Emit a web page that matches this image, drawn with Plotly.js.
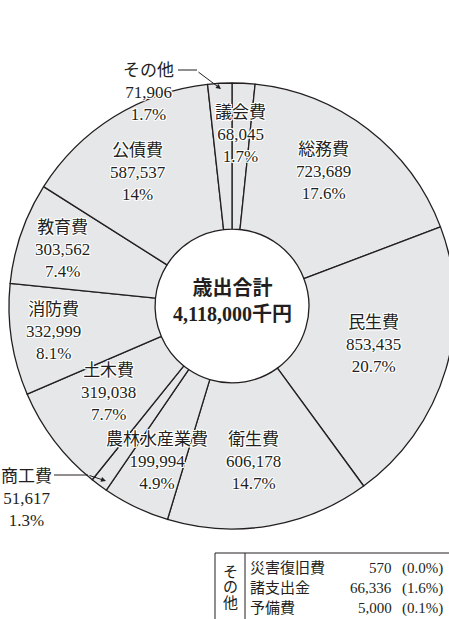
<!DOCTYPE html>
<html>
<head>
<meta charset="utf-8">
<script src="https://cdn.plot.ly/plotly-3.0.1.min.js"></script>
<style>
html,body{margin:0;padding:0;background:#fff;overflow:hidden;width:449px;height:619px;}
#chart{width:460px;height:619px;}
</style>
</head>
<body>
<div id="chart"></div>
<script>
// ---- data (clockwise from 12 o'clock) ----
const categories = ['議会費','総務費','民生費','衛生費','農林水産業費','商工費','土木費','消防費','教育費','公債費','その他'];
const values = [68045, 723689, 853435, 606178, 199994, 51617, 319038, 332999, 303562, 587537, 71906];
const percentLabels = ['1.7%','17.6%','20.7%','14.7%','4.9%','1.3%','7.7%','8.1%','7.4%','14%','1.7%'];
const totalTitle = '歳出合計';
const totalUnit = '千円';
const otherGroupLabel = ['そ','の','他'];
const otherItems = ['災害復旧費','諸支出金','予備費'];
const otherValues = [570, 66336, 5000];
const otherPercents = ['0.0%','1.6%','0.1%'];

// ---- layout helpers ----
const W = 460, H = 619;
const px = x => x / W;
const py = y => 1 - y / H;
const fmt = v => v.toLocaleString('en-US');
const FONT = "Liberation Serif, Noto Sans CJK JP, serif";
const INK = '#231f20';
const halo = 'white 1px 1px 0px, white -1px -1px 0px, white 1px -1px 0px, white -1px 1px 0px, white 0px 1px 0px, white 0px -1px 0px, white 1px 0px 0px, white -1px 0px 0px';

// label block centres (pixels)
const labelPos = {
  '議会費':[240,135], '総務費':[323,171], '民生費':[373,344], '衛生費':[253,461],
  '農林水産業費':[157,461], '商工費':[26,498], '土木費':[108,392], '消防費':[53,331],
  '教育費':[62,250], '公債費':[138,173], 'その他':[148,93]
};

const annotations = [];
categories.forEach((c,i)=>{
  const p = labelPos[c];
  annotations.push({
    xref:'paper', yref:'paper', x:px(p[0]), y:py(p[1]),
    xanchor:'center', yanchor:'middle', showarrow:false,
    text: c + '<br>' + fmt(values[i]) + '<br>' + percentLabels[i],
    font:{family:FONT, size:17, color:INK, shadow:halo}
  });
});

// arrows for small slices
annotations.push({xref:'paper',yref:'paper',x:px(221),y:py(89),ax:-24,ay:-18,text:'',showarrow:true,
  arrowhead:2,arrowsize:1,arrowwidth:1,arrowcolor:INK});
annotations.push({xref:'paper',yref:'paper',x:px(106),y:py(481),ax:-18,ay:-6,text:'',showarrow:true,
  arrowhead:2,arrowsize:1,arrowwidth:1,arrowcolor:INK});

// centre text
const total = values.reduce((a,b)=>a+b,0);
annotations.push({
  xref:'paper', yref:'paper', x:px(232), y:py(301), xanchor:'center', yanchor:'middle', showarrow:false,
  text:'<b>'+totalTitle+'</b><br><b>'+fmt(total)+totalUnit+'</b>',
  font:{family:FONT, size:20, color:INK}
});

// その他 table
const rowY = [568, 588, 608];
const grpY = [572, 587, 603];
otherGroupLabel.forEach((g,i)=>{
  annotations.push({xref:'paper',yref:'paper',x:px(230),y:py(grpY[i]),xanchor:'center',yanchor:'middle',
    showarrow:false,text:g,font:{family:FONT,size:15,color:INK}});
});
otherItems.forEach((it,i)=>{
  annotations.push({xref:'paper',yref:'paper',x:px(248),y:py(rowY[i]),xanchor:'left',yanchor:'middle',
    showarrow:false,text:it,font:{family:FONT,size:15,color:INK}});
  annotations.push({xref:'paper',yref:'paper',x:px(394),y:py(rowY[i]),xanchor:'right',yanchor:'middle',
    showarrow:false,text:fmt(otherValues[i]),font:{family:FONT,size:15,color:INK}});
  annotations.push({xref:'paper',yref:'paper',x:px(400),y:py(rowY[i]),xanchor:'left',yanchor:'middle',
    showarrow:false,text:'('+otherPercents[i]+')',font:{family:FONT,size:15,color:INK}});
});

const shapes = [
  // leader tails
  {type:'line',xref:'paper',yref:'paper',x0:px(178),y0:py(70),x1:px(197),y1:py(70),line:{color:INK,width:1}},
  {type:'line',xref:'paper',yref:'paper',x0:px(54),y0:py(475),x1:px(88),y1:py(475),line:{color:INK,width:1}},
  // table frame
  {type:'line',xref:'paper',yref:'paper',x0:px(215),y0:py(553),x1:1,y1:py(553),line:{color:INK,width:1}},
  {type:'line',xref:'paper',yref:'paper',x0:px(215),y0:py(553),x1:px(215),y1:0,line:{color:INK,width:1}},
  {type:'line',xref:'paper',yref:'paper',x0:px(245),y0:py(553),x1:px(245),y1:0,line:{color:INK,width:1}}
];

const trace = {
  type:'pie', labels:categories, values:values, sort:false, direction:'clockwise', rotation:0,
  hole:0.345, textinfo:'none', hoverinfo:'none', showlegend:false,
  marker:{colors:categories.map(()=> '#e6e7e8'), line:{color:INK, width:1.3}},
  domain:{x:[px(9), px(455)], y:[py(529), py(83)]}
};

Plotly.newPlot('chart',[trace],{
  width:W, height:H, margin:{l:0,r:0,t:0,b:0}, paper_bgcolor:'#fff',
  showlegend:false, annotations:annotations, shapes:shapes
},{displayModeBar:false, staticPlot:true});
</script>
</body>
</html>
